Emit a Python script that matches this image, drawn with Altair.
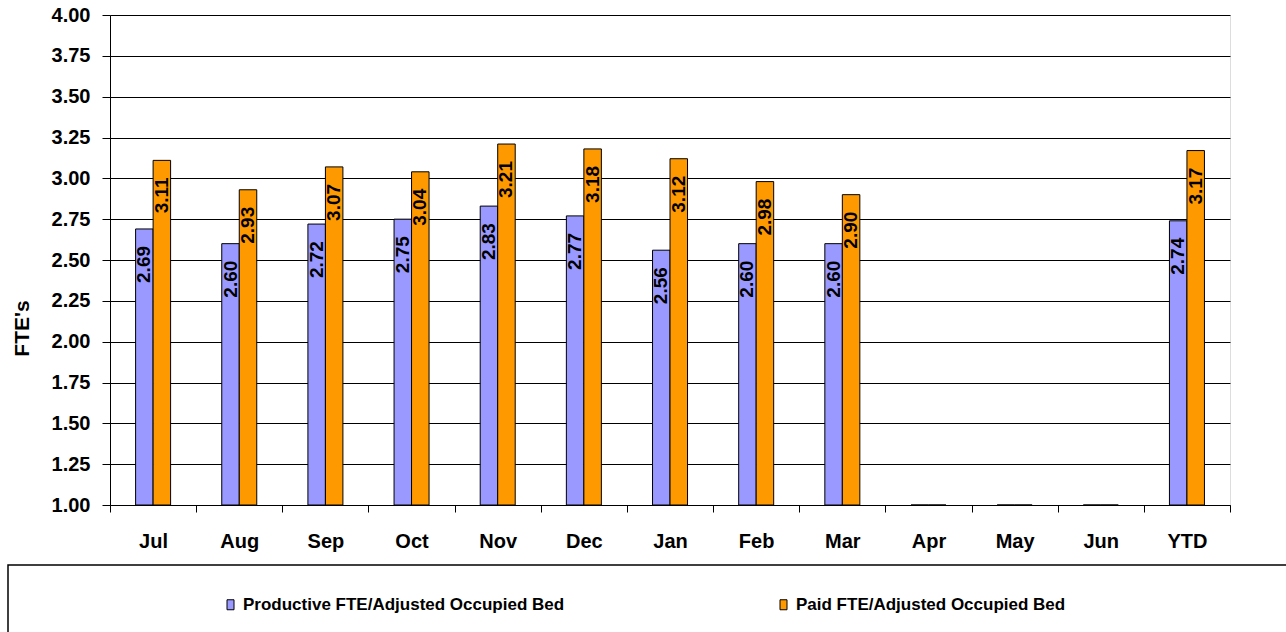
import altair as alt
import pandas as pd

# Monthly staffing ratios (FTE per adjusted occupied bed)
months = ["Jul", "Aug", "Sep", "Oct", "Nov", "Dec", "Jan", "Feb", "Mar", "Apr", "May", "Jun", "YTD"]
productive = [2.69, 2.60, 2.72, 2.75, 2.83, 2.77, 2.56, 2.60, 2.60, 0, 0, 0, 2.74]
paid = [3.11, 2.93, 3.07, 3.04, 3.21, 3.18, 3.12, 2.98, 2.90, 0, 0, 0, 3.17]
series = ["Productive FTE/Adjusted  Occupied Bed", "Paid FTE/Adjusted Occupied Bed"]
colors = ["#9999FF", "#FF9900"]
y_ticks = [1.00, 1.25, 1.50, 1.75, 2.00, 2.25, 2.50, 2.75, 3.00, 3.25, 3.50, 3.75, 4.00]

rows = []
for i, m in enumerate(months):
    rows.append({"month": m, "series": series[0], "value": productive[i]})
    rows.append({"month": m, "series": series[1], "value": paid[i]})
df = pd.DataFrame(rows)

FONT = "Liberation Sans"

x_enc = alt.X(
    "month:N",
    sort=months,
    title=None,
    scale=alt.Scale(paddingInner=0, paddingOuter=0),
    axis=alt.Axis(
        labelAngle=0,
        labelFont=FONT,
        labelFontSize=20,
        labelFontWeight="bold",
        labelColor="black",
        labelPadding=19,
        tickBand="extent",
        tickSize=7,
        tickColor="black",
        domainColor="black",
        grid=False,
    ),
)
# the pair of bars sits in the middle ~40% of each month's slot
xoff_enc = alt.XOffset(
    "series:N",
    sort=series,
    scale=alt.Scale(range=[25.6, 60.6]),
)
y_scale = alt.Scale(domain=[1, 4], zero=False, nice=False, clamp=True)

bars = alt.Chart(df).mark_bar(stroke="black", strokeWidth=1).encode(
    x=x_enc,
    xOffset=xoff_enc,
    y=alt.Y(
        "value:Q",
        scale=y_scale,
        title="FTE's",
        axis=alt.Axis(
            values=y_ticks,
            format=".2f",
            labelFont=FONT,
            labelFontSize=20,
            labelFontWeight="bold",
            labelColor="black",
            labelPadding=12,
            tickSize=8,
            tickColor="black",
            domainColor="black",
            gridColor="black",
            gridWidth=1,
            titleFont=FONT,
            titleFontSize=21,
            titleFontWeight="bold",
            titleColor="black",
            titleAngle=270,
            titleAlign="center",
            titleBaseline="middle",
            titleX=-88,
            titleY=313,
        ),
    ),
    y2=alt.datum(1),
    color=alt.Color(
        "series:N",
        sort=series,
        scale=alt.Scale(domain=series, range=colors),
        legend=alt.Legend(
            title=None,
            orient="none",
            direction="horizontal",
            legendX=112,
            legendY=581,
            padding=0,
            columnPadding=206,
            labelFont=FONT,
            labelFontSize=17,
            labelFontWeight="bold",
            labelColor="black",
            labelLimit=0,
            labelOffset=4,
            symbolType="M-0.7,-1L0.7,-1L0.7,1L-0.7,1Z",
            symbolSize=100,
            symbolStrokeColor="black",
            symbolStrokeWidth=1,
            symbolOpacity=1,
        ),
    ),
)

labels = alt.Chart(df).transform_filter("datum.value > 0").mark_text(
    angle=270,
    align="right",
    baseline="middle",
    dx=-17,
    font=FONT,
    fontSize=19,
    fontWeight="bold",
    color="black",
).encode(
    x=alt.X("month:N", sort=months),
    xOffset=xoff_enc,
    y=alt.Y("value:Q", scale=y_scale),
    text=alt.Text("value:Q", format=".2f"),
)

# Frame around the legend area below the plot
legend_box = alt.Chart(pd.DataFrame({"k": [0]})).mark_rect(
    fillOpacity=0, stroke="black", strokeWidth=1.5
).encode(
    x=alt.value(-102), x2=alt.value(1200), y=alt.value(550), y2=alt.value(640)
)

chart = (
    alt.layer(legend_box, bars, labels)
    .properties(
        width=1120,
        height=490,
        autosize=alt.AutoSizeParams(type="none"),
        padding={"left": 110, "top": 15, "right": 56, "bottom": 127},
    )
    .configure_view(stroke=None)
    .configure(background="white")
)

chart.save("out.html", embed_options={"renderer": "svg", "actions": False})
